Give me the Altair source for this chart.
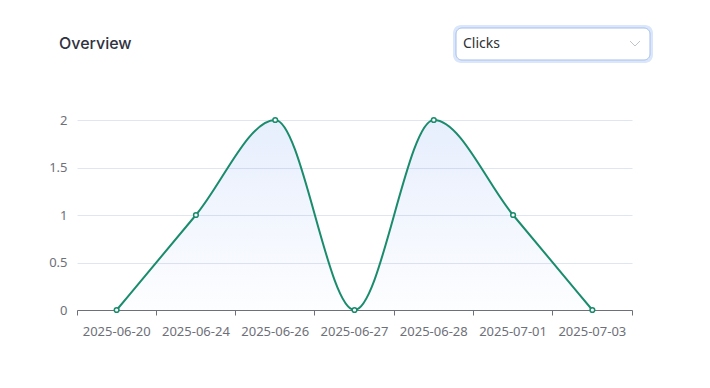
import altair as alt
import pandas as pd

dates = ["2025-06-20", "2025-06-24", "2025-06-26", "2025-06-27",
         "2025-06-28", "2025-07-01", "2025-07-03"]
clicks = [0, 1, 2, 0, 2, 1, 0]
y_ticks = [0, 0.5, 1, 1.5, 2]
title_text = ["Overview"]
select_text = ["Clicks"]

df = pd.DataFrame({"date": dates, "clicks": clicks})

LINE = "#1a8c6c"
AXIS = "#6e7079"
FONT = "Noto Sans"

xenc = alt.X(
    "date:N", sort=dates, bandPosition=0.5,
    scale=alt.Scale(type="band", paddingInner=0, paddingOuter=0),
    axis=alt.Axis(title=None, labelAngle=0, labelColor=AXIS, labelFontSize=13,
                  labelFont=FONT, domainColor=AXIS, tickColor=AXIS, tickSize=5,
                  labelPadding=10, bandPosition=1, tickExtra=True, grid=False),
)
yenc = alt.Y(
    "clicks:Q", scale=alt.Scale(domain=[0, 2], nice=False),
    axis=alt.Axis(title=None, values=y_ticks, format="~g", labelColor=AXIS,
                  labelFontSize=13, labelFont=FONT, domain=False, ticks=False,
                  tickSize=0, labelPadding=10, gridColor="#e0e6f1"),
)

base = alt.Chart(df)
area = base.mark_area(
    interpolate="monotone",
    color=alt.Gradient(
        gradient="linear", x1=0, x2=0, y1=0, y2=1,
        stops=[alt.GradientStop(color="rgba(90,140,240,0.15)", offset=0),
               alt.GradientStop(color="rgba(90,140,240,0.01)", offset=1)],
    ),
).encode(x=xenc, y=yenc)
line = base.mark_line(interpolate="monotone", color=LINE, strokeWidth=2).encode(x=xenc, y=yenc)
pts = base.mark_point(filled=True, fill="white", stroke=LINE, strokeWidth=1.5,
                      size=22, opacity=1).encode(x=xenc, y=yenc)

one = pd.DataFrame({"k": [0]})
title = alt.Chart(pd.DataFrame({"t": title_text})).mark_text(
    align="left", baseline="middle", font="Inter", fontSize=16, fontWeight=500,
    color="#2f3340").encode(x=alt.value(-18), y=alt.value(-76), text="t:N")

glow = alt.Chart(one).mark_rect(fill="#dae6fb", cornerRadius=8).encode(
    x=alt.value(376), x2=alt.value(576), y=alt.value(-95), y2=alt.value(-57))
box = alt.Chart(one).mark_rect(fill="white", stroke="#a7bfe8", strokeWidth=1,
                               cornerRadius=6).encode(
    x=alt.value(379), x2=alt.value(573), y=alt.value(-92), y2=alt.value(-60))
sel = alt.Chart(pd.DataFrame({"t": select_text})).mark_text(
    align="left", baseline="middle", font=FONT, fontSize=14,
    color="#303133").encode(x=alt.value(386), y=alt.value(-76), text="t:N")
chev1 = alt.Chart(one).mark_rule(color="#c0c4cc", strokeWidth=1).encode(
    x=alt.value(553), x2=alt.value(558), y=alt.value(-79), y2=alt.value(-74))
chev2 = alt.Chart(one).mark_rule(color="#c0c4cc", strokeWidth=1).encode(
    x=alt.value(558), x2=alt.value(563), y=alt.value(-74), y2=alt.value(-79))

chart = alt.layer(area, line, pts, title, glow, box, sel, chev1, chev2).properties(
    width=555, height=190,
    autosize=alt.AutoSizeParams(type="none"),
    padding={"left": 69, "top": 112, "right": 70, "bottom": 70},
    background="white",
).configure_view(stroke=None)

chart.save("out.html", embed_options={"renderer": "svg", "actions": False})
